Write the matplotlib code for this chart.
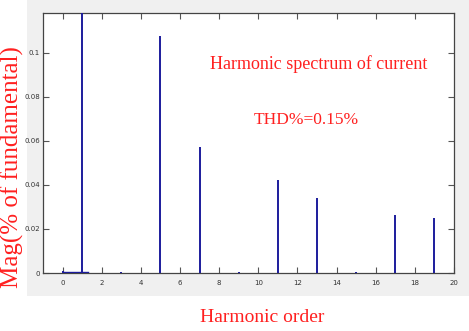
import matplotlib
matplotlib.use("Agg")
import matplotlib.pyplot as plt
from matplotlib.patches import Rectangle

# Data
harmonic_orders = [0, 1, 3, 5, 7, 9, 11, 13, 15, 17, 19]
magnitudes = [0.0008, 1.0, 0.0004, 0.1076, 0.0573, 0.0004, 0.0423, 0.0340, 0.0004, 0.0264, 0.0250]
low_orders = [0.0, 0.4, 0.8, 1.3]
low_values = [0.0006, 0.0006, 0.0006, 0.0006]
xticks = list(range(0, 21, 2))
yticks = [0, 0.02, 0.04, 0.06, 0.08, 0.1]
ytick_labels = ["0", "0.02", "0.04", "0.06", "0.08", "0.1"]

W, H = 469, 331
fig = plt.figure(figsize=(W / 100, H / 100), dpi=100)
fig.patch.set_facecolor("white")
bg = Rectangle((27 / W, 1 - 296 / H), 1 - 27 / W, 296 / H,
               transform=fig.transFigure, facecolor="#f0f0f0",
               edgecolor="none", zorder=-10)
fig.add_artist(bg)

ax = fig.add_axes([43 / W, 1 - 273 / H, (454 - 43) / W, (273 - 13) / H])
ax.set_zorder(1)
ax.set_facecolor("white")
bar_color = "#1c1c9c"
ax.vlines(harmonic_orders, 0, magnitudes, colors=bar_color, linewidth=1.4, zorder=3)
ax.plot(low_orders, low_values, color=bar_color, linewidth=1.0, zorder=3)

ax.set_xlim(-1, 20)
ax.set_ylim(0, 0.118)
ax.set_xticks(xticks)
ax.set_yticks(yticks)
ax.set_yticklabels(ytick_labels)

tick_font = ["Liberation Sans Narrow", "DejaVu Sans"]
for lab in ax.get_xticklabels() + ax.get_yticklabels():
    lab.set_family(tick_font)
    lab.set_fontsize(5)
    lab.set_color("#333333")
ax.tick_params(direction="in", top=True, right=True, length=4, width=0.8,
               color="#555555")
ax.tick_params(axis="y", pad=2)
ax.tick_params(axis="x", pad=5)
for s in ax.spines.values():
    s.set_color("#444444")
    s.set_linewidth(0.9)

serif = ["Liberation Serif", "DejaVu Serif"]
ax.text(0.67, 0.805, "Harmonic spectrum of current", transform=ax.transAxes,
        ha="center", va="center", color="#ff2020", fontsize=13, family=serif)
ax.text(0.64, 0.59, "THD%=0.15%", transform=ax.transAxes,
        ha="center", va="center", color="#ff2020", fontsize=12.5, family=serif)

fig.text(262 / W, 1 - 317 / H, "Harmonic order", ha="center", va="center",
         color="#ff2020", fontsize=14, family=serif)
fig.text(12 / W, 1 - 167 / H, "Mag(% of fundamental)", ha="center", va="center",
         rotation=90, color="#ff2020", fontsize=18, family=serif)

fig.savefig("out.png", dpi=100, facecolor=fig.get_facecolor())
